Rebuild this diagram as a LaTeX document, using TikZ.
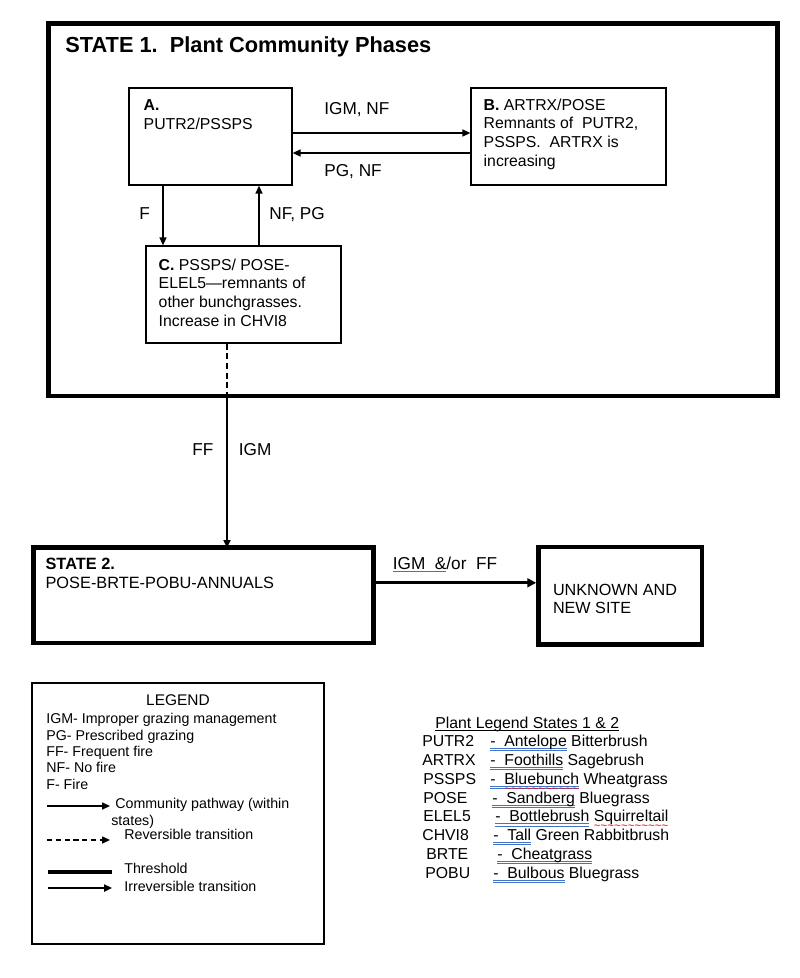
\documentclass[tikz,border=0pt]{standalone}
\usepackage{fontspec}
\setmainfont{Liberation Sans}
\usetikzlibrary{positioning,arrows.meta}
\definecolor{ulblue}{RGB}{68,114,196}
\newcommand\ulrule[3]{\setbox0\hbox{#3}\rlap{\color{#1}\rule[#2]{\wd0}{0.45pt}}\copy0\relax}
\newcommand\blackul[1]{\ulrule{black}{-1.3pt}{#1}}
\newcommand\blueul[1]{\ulrule{ulblue}{-1.4pt}{#1}}
\newcommand\bluedul[1]{\setbox0\hbox{#1}\rlap{\color{ulblue}\rule[-1.3pt]{\wd0}{0.45pt}}\rlap{\color{ulblue}\rule[-2.5pt]{\wd0}{0.45pt}}\copy0\relax}
\newcommand\redwave[1]{\setbox0\hbox{#1}\rlap{\raisebox{-4.5pt}[0pt][0pt]{\color{red}\hbox to \wd0{\xleaders\hbox{\fontsize{6.5}{6.5}\selectfont\char"7E}\hfil}}}#1}

\begin{document}
\begin{tikzpicture}[x=0.02cm, y=-0.02cm,
        frame/.style={draw, line width=2.6pt, inner sep=0pt},
        phase/.style={draw, line width=0.75pt, inner sep=0pt, minimum width=3.9cm, minimum height=1.94cm},
        txt/.style={inner sep=0pt, align=left, font=\fontsize{9}{10.7}\selectfont},
        lbl/.style={inner sep=0pt, anchor=base west, font=\fontsize{9.8}{11}\selectfont},
        ltxt/.style={inner sep=0pt, align=left, font=\fontsize{8.1}{9.35}\selectfont},
        ptxt/.style={inner sep=0pt, anchor=base west, font=\fontsize{9}{10.7}\selectfont},
        path/.style={-{Triangle[length=4.5pt, width=4pt]}, line width=0.7pt}]
        \useasboundingbox (0,0) rectangle (800,978);

        \node[frame, line width=2.8pt, minimum width=14.6cm, minimum height=7.46cm] (s1) at (413,209.5) {};
        \node[inner sep=0pt, anchor=base west, font=\bfseries\fontsize{12.4}{14}\selectfont] (s1title) at (65,52) {STATE 1.\ \ Plant Community Phases};

        \node[phase, minimum width=3.26cm] (A) at (210.5,136.5) {};
        \node[phase] (B) at (568.5,136.5) {};
        \node[phase] (C) at (243.5,294.5) {};
        \node[txt, below right=0.24cm and 0.3cm of A.north west] (Atxt) {\textbf{A.}\\PUTR2/PSSPS};
        \node[txt, below right=0.22cm and 0.26cm of B.north west] (Btxt) {\textbf{B.} ARTRX/POSE\\Remnants of\ \ PUTR2,\\PSSPS.\ \ ARTRX is\\increasing};
        \node[txt, below right=0.26cm and 0.26cm of C.north west] (Ctxt) {\textbf{C.} PSSPS/ POSE-\\ELEL5---remnants of\\other bunchgrasses.\\Increase in CHVI8};

        \draw[path] ([yshift=0.07cm]A.east) -- ([yshift=0.07cm]B.west);
        \draw[path] ([yshift=-0.33cm]B.west) -- ([yshift=-0.33cm]A.east);
        \draw[path] ([xshift=-0.95cm]A.south) -- ([xshift=-0.95cm]A.south |- C.north);
        \draw[path] ([xshift=0.31cm]C.north) -- ([xshift=0.31cm]C.north |- A.south);
        \node[lbl] (igmnf) at (324,114) {IGM, NF};
        \node[lbl] (pgnf) at (324,176) {PG, NF};
        \node[lbl] (f) at (139,219) {F};
        \node[lbl] (nfpg) at (269,219) {NF, PG};

        \coordinate (cross) at ([xshift=-0.33cm]C.south |- s1.south);
        \draw[line width=0.7pt, dash pattern=on 3.5pt off 2pt] ([xshift=-0.33cm]C.south) -- (cross);

        \node[frame, minimum width=6.8cm, minimum height=1.91cm] (S2) at (203.5,595.3) {};
        \node[txt, below right=0.25cm and 0.28cm of S2.north west, font=\fontsize{9.3}{11}\selectfont] (S2txt) {\textbf{STATE 2.}\\POSE-BRTE-POBU-ANNUALS};
        \node[frame, minimum width=3.27cm, minimum height=1.95cm] (U) at (620.2,595.8) {};
        \node[txt, below right=0.78cm and 0.33cm of U.north west, font=\fontsize{9.2}{10.4}\selectfont] (Utxt) {UNKNOWN AND\\NEW SITE};

        \draw[path, line width=0.9pt, shorten >=-1.5pt] (cross) -- (cross |- S2.north);
        \node[lbl] (ff) at (192,455) {FF};
        \node[lbl] (igm) at (238.5,455) {IGM};
        \draw[-{Triangle[length=5pt, width=5pt]}, line width=1.6pt] ([yshift=0.25cm]S2.east) -- ([yshift=0.25cm]S2.east -| U.west);
        \node[lbl] (igmff) at (392.5,569) {\blueul{IGM\ \ \&}/or\ \ FF};

        \node[draw, line width=0.9pt, inner sep=0pt, minimum width=5.84cm, minimum height=5.22cm] (leg) at (178,813.5) {};
        \node[inner sep=0pt, anchor=base, font=\fontsize{8.8}{10}\selectfont] (legtitle) at (178,705.5) {LEGEND};
        \node[ltxt, anchor=north west] (legabbr) at (46,713) {IGM- Improper grazing management\\PG- Prescribed grazing\\FF- Frequent fire\\NF- No fire\\F- Fire};
        \draw[path] (47,806) -- (110,806);
        \node[ltxt, anchor=north west] (legcp) at (111,798) {\hspace*{0.08cm}Community pathway (within\\states)};
        \draw[path, dash pattern=on 3pt off 2pt] (47,840) -- (110,840);
        \node[ltxt, anchor=base west] (legrev) at (124,839) {Reversible transition};
        \draw[line width=1.8pt] (48,872) -- (112,872);
        \node[ltxt, anchor=base west] (legthr) at (124,873) {Threshold};
        \draw[path, line width=1.3pt] (48,888) -- (112,888);
        \node[ltxt, anchor=base west] (legirr) at (124,891) {Irreversible transition};

        \node[ptxt] (plhead) at (435,728.7) {\blackul{Plant Legend States 1 \& 2}};
        \foreach \code/\cx/\dx/\name [count=\i from 0] in {
                PUTR2/422/490/{\bluedul{-\ \ Antelope} Bitterbrush},
                ARTRX/422/490/{\bluedul{-\ \ Foothills} Sagebrush},
                PSSPS/423/490/{\bluedul{-\ \ \redwave{Bluebunch}} Wheatgrass},
                POSE/423/492/{\bluedul{-\ \ Sandberg} Bluegrass},
                ELEL5/423/495/{\bluedul{-\ \ Bottlebrush} \redwave{Squirreltail}},
                CHVI8/422/493/{\bluedul{-\ \ Tall} Green Rabbitbrush},
                BRTE/426/497/{\bluedul{-\ \ Cheatgrass}},
                POBU/425/493/{\bluedul{-\ \ Bulbous} Bluegrass}} {
                \node[ptxt] (code\i) at (\cx,746.7+18.8*\i) {\code};
                \node[ptxt] (name\i) at (\dx,746.7+18.8*\i) {\name};
        }
\end{tikzpicture}
\end{document}
